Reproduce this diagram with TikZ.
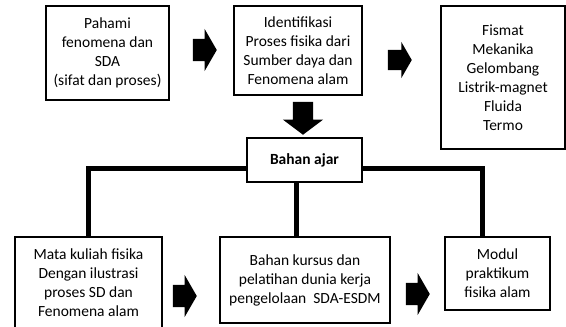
\documentclass[tikz,border=0pt]{standalone}
\usepackage{fontspec}
\setmainfont{Carlito}
\usetikzlibrary{shapes.arrows}

\tikzset{
  box/.style={draw, line width=1.8pt, align=center, inner sep=0pt,
    font=\fontsize{15.5}{19}\selectfont},
  fatarrow/.style={single arrow, fill=black, draw=none, inner xsep=0pt,
    inner ysep=11pt, minimum height=24pt, single arrow head extend=10pt,
    single arrow tip angle=120, anchor=tip},
  link/.style={line width=5pt}
}

\begin{document}
\begin{tikzpicture}[x=1pt,y=-1pt]
\useasboundingbox (0,0) rectangle (566,327);

% top row
\node (pahami) at (107.5,53) [box, minimum width=123pt, minimum height=94pt]
  {Pahami\\fenomena dan\\SDA\\(sifat dan proses)};
\node (ident) at (298,50.5) [box, minimum width=128pt, minimum height=89pt]
  {Identifikasi\\Proses fisika dari\\Sumber daya dan\\Fenomena alam};
\node (bidang) at (503,77.5) [box, minimum width=124pt, minimum height=143pt]
  {Fismat\\Mekanika\\Gelombang\\Listrik-magnet\\Fluida\\Termo};

% middle
\node (bahan) at (304.5,160) [box, minimum width=115pt, minimum height=44pt]
  {\bfseries Bahan ajar};

% bottom row
\node (mata) at (88.5,283) [box, minimum width=147pt, minimum height=92pt]
  {Mata kuliah fisika\\Dengan ilustrasi\\proses SD dan\\Fenomena alam};
\node (kursus) at (305,280) [box, minimum width=170pt, minimum height=86pt]
  {Bahan kursus dan\\pelatihan dunia kerja\\pengelolaan~~SDA-ESDM};
\node (modul) at (497.5,273.5) [box, minimum width=105pt, minimum height=73pt]
  {Modul\\praktikum\\fisika alam};

% block arrows
\node (p1) at (217,50) [fatarrow] {};
\node (p2) at (412,60) [fatarrow, inner ysep=10pt, single arrow head extend=8pt] {};
\node (p3) at (197,296) [fatarrow] {};
\node (p4) at (430,294) [fatarrow] {};
\node (pdown) at (303,135) [fatarrow, rotate=-90, inner ysep=10pt,
  minimum height=33pt, single arrow tip angle=106] {};

% links from Bahan ajar
\draw[link] ([yshift=-8pt]bahan.west) -| (mata.north);
\draw[link] ([yshift=-8pt]bahan.east) -| ([xshift=-15pt]modul.north);
\draw[link] ([xshift=-8pt]bahan.south) -- ([xshift=-8pt]bahan.south |- kursus.north);
\end{tikzpicture}
\end{document}
